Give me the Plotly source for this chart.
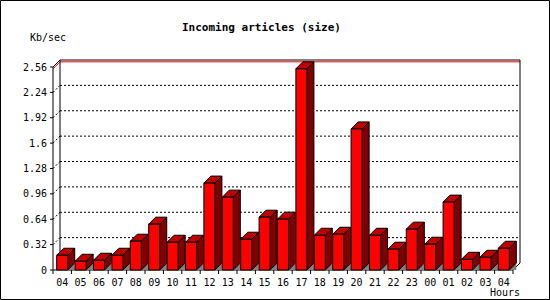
import plotly.graph_objects as go

# ---- data ----
hours = ["04", "05", "06", "07", "08", "09", "10", "11", "12", "13", "14", "15", "16",
         "17", "18", "19", "20", "21", "22", "23", "00", "01", "02", "03", "04"]
kb_per_sec = [0.186, 0.110, 0.123, 0.186, 0.363, 0.578, 0.350, 0.350, 1.096, 0.919,
              0.388, 0.666, 0.641, 2.537, 0.438, 0.451, 1.779, 0.438, 0.262, 0.515,
              0.325, 0.856, 0.135, 0.160, 0.274]
y_ticks = [0, 0.32, 0.64, 0.96, 1.28, 1.6, 1.92, 2.24, 2.56]
y_tick_text = ["0", "0.32", "0.64", "0.96", "1.28", "1.6", "1.92", "2.24", "2.56"]
title = "Incoming articles (size)"
y_title = "Kb/sec"
x_title = "Hours"

# ---- geometry / style ----
W, H = 550, 300
PL, PR, PT, PB = 48, 522, 58, 275          # plot area in px
X0PX, Y0PX = 53, 270                        # front origin px
CAT_PX = 18.4                               # px per category
YMAX = y_ticks[-1]
KY = (Y0PX - 67) / YMAX                     # px per unit
DEPTH = 7                                   # 3D depth in px
FONT = "DejaVu Sans Mono"

n = len(hours)
xr = [-0.5 - (X0PX - PL) / CAT_PX, -0.5 + (PR - X0PX) / CAT_PX]
yr = [-(PB - Y0PX) / KY, (Y0PX - PT) / KY]
dx = DEPTH / CAT_PX
dy = DEPTH / KY
px_x = 1 / CAT_PX
px_y = 1 / KY
xl_front, xr_front = -0.5, n - 0.5
half = 0.3


def px2paper_x(p):
    return (p - PL) / (PR - PL)


def px2paper_y(p):
    return (PB - p) / (PB - PT)


shapes = []


def line(x0, y0, x1, y1, color="black", dash="solid", layer="below", ref="x"):
    shapes.append(dict(type="line", xref=ref, yref="y" if ref == "x" else "paper",
                       x0=x0, y0=y0, x1=x1, y1=y1, layer=layer,
                       line=dict(color=color, width=1, dash=dash)))


def poly(pts, fill, layer="below", lw=1):
    path = "M " + " L ".join(f"{a},{b}" for a, b in pts) + " Z"
    shapes.append(dict(type="path", xref="x", yref="y", path=path, layer=layer,
                       fillcolor=fill, line=dict(color="black", width=lw)))


# dotted gridlines on back wall + diagonal stubs
for t in y_ticks[1:-1]:
    line(xl_front + dx, t + dy, xr_front + dx, t + dy, dash="2px,2px")
    line(xl_front, t, xl_front + dx, t + dy, dash="2px,2px")

# max line (red)
vmax = max(kb_per_sec)
line(xl_front + dx, vmax + dy, xr_front + dx, vmax + dy, color="#ff0000")
line(xl_front, vmax, xl_front + dx, vmax + dy, color="#ff0000")

# back wall frame
line(xl_front + dx, dy, xl_front + dx, YMAX + dy)
line(xr_front + dx, dy, xr_front + dx, YMAX + dy)
line(xl_front + dx, YMAX + dy, xr_front + dx, YMAX + dy)
line(xl_front, YMAX, xl_front + dx, YMAX + dy)
line(xr_front, 0, xr_front + dx, dy)

# front axes
line(xl_front, 0, xl_front, YMAX)
line(xl_front, 0, xr_front, 0)
for t in y_ticks:
    line(xl_front - 3 * px_x, t, xl_front, t)
for i in range(n + 1):
    line(i - 0.5, 0, i - 0.5, -4 * px_y)

# 3D bar faces
for i, v in enumerate(kb_per_sec):
    a, b = i - half, i + half
    poly([(b, 0), (b + dx, dy), (b + dx, 0)], "#808080", lw=0)
    poly([(b, 0), (b, v), (b + dx, v + dy), (b + dx, dy)], "#800000")
    poly([(a, v), (a + dx, v + dy), (b + dx, v + dy), (b, v)], "#c00000")

# outer border
shapes.append(dict(type="rect", xref="paper", yref="paper",
                   x0=px2paper_x(0.5), x1=px2paper_x(W - 0.5),
                   y0=px2paper_y(H - 0.5), y1=px2paper_y(0.5),
                   line=dict(color="black", width=1), layer="above"))

fig = go.Figure(go.Bar(
    x=list(range(n)), y=kb_per_sec, width=2 * half,
    marker=dict(color="#ff0000", line=dict(color="black", width=1)),
    hoverinfo="skip",
))

annotations = [
    dict(text=f"<b>{title}</b>", xref="paper", yref="paper",
         x=px2paper_x(261), y=px2paper_y(27), xanchor="center", yanchor="middle",
         showarrow=False, font=dict(family=FONT, size=11, color="black")),
    dict(text=y_title, xref="paper", yref="paper",
         x=px2paper_x(28), y=px2paper_y(37), xanchor="left", yanchor="middle",
         showarrow=False, font=dict(family=FONT, size=10, color="black")),
    dict(text=x_title, xref="paper", yref="paper",
         x=px2paper_x(522), y=px2paper_y(292), xanchor="right", yanchor="middle",
         showarrow=False, font=dict(family=FONT, size=10, color="black")),
]

fig.update_layout(
    width=W, height=H,
    margin=dict(l=PL, r=W - PR, t=PT, b=H - PB, pad=0),
    paper_bgcolor="white", plot_bgcolor="white",
    showlegend=False,
    shapes=shapes,
    annotations=annotations,
    xaxis=dict(range=xr, tickmode="array", tickvals=list(range(n)), ticktext=hours,
               ticks="", showgrid=False, zeroline=False, showline=False,
               tickfont=dict(family=FONT, size=10, color="black"), fixedrange=True),
    yaxis=dict(range=yr, tickmode="array", tickvals=y_ticks, ticktext=y_tick_text,
               ticks="", showgrid=False, zeroline=False, showline=False,
               tickfont=dict(family=FONT, size=10, color="black"), fixedrange=True),
)

fig.write_html("out.html")
